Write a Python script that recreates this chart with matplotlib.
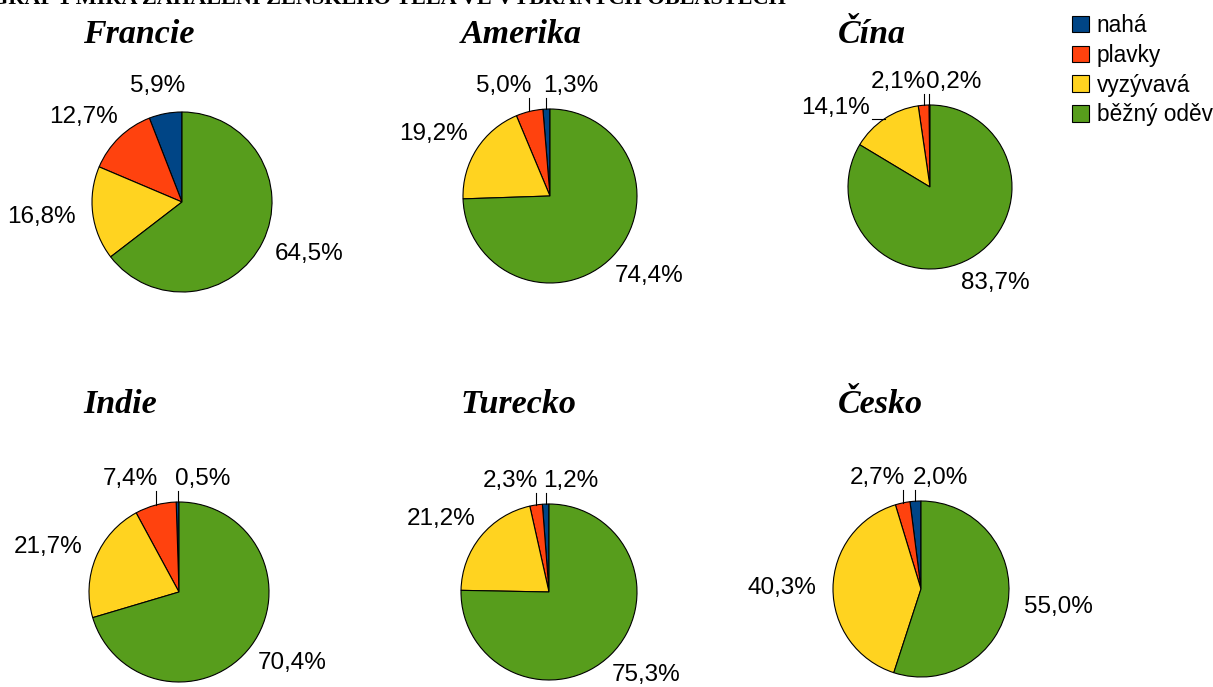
import numpy as np
import matplotlib
matplotlib.use("Agg")
import matplotlib.pyplot as plt

categories = ["nahá", "plavky", "vyzývavá", "běžný oděv"]
countries = ["Francie", "Amerika", "Čína", "Indie", "Turecko", "Česko"]

francie = [5.9, 12.7, 16.8, 64.5]
amerika = [1.3, 5.0, 19.2, 74.4]
cina = [0.2, 2.1, 14.1, 83.7]
indie = [0.5, 7.4, 21.7, 70.4]
turecko = [1.2, 2.3, 21.2, 75.3]
cesko = [2.0, 2.7, 40.3, 55.0]
values = [francie, amerika, cina, indie, turecko, cesko]

colors = ["#004586", "#ff420e", "#ffd320", "#579d1c"]

W, H = 1213, 687
# pie centre (px from top-left) and radius in px
layout = [(182, 202, 90), (550, 196, 87), (930, 187, 82),
          (179, 592, 90), (549, 592, 88), (921, 589, 88)]
title_x = [83, 461, 838, 83, 461, 838]
title_y = [43, 43, 43, 413, 413, 413]

fig = plt.figure(figsize=(W / 100, H / 100), dpi=100)
renderer = fig.canvas.get_renderer()

label_font = dict(family="Liberation Sans", size=17.5, color="black")

for i, (name, vals) in enumerate(zip(countries, values)):
    cx, cy, r = layout[i]
    ax = fig.add_axes([(cx - r) / W, 1 - (cy + r) / H, 2 * r / W, 2 * r / H])
    wedges, _ = ax.pie(vals, colors=colors, startangle=90, counterclock=True,
                       wedgeprops=dict(edgecolor="black", linewidth=0.8))
    ax.set_xlim(-1, 1)
    ax.set_ylim(-1, 1)
    ax.axis("off")

    total = sum(vals)
    cum = 0.0
    leader = vals[0] < 3
    for j, v in enumerate(vals):
        mid = np.deg2rad(90 + (cum + v / 2) / total * 360)
        cum += v
        txt = f"{v:.1f}%".replace(".", ",")
        px, py = np.cos(mid), np.sin(mid)
        if leader and j < 2:
            top = 1 + 11 / r
            ax.plot([px, px], [py, top], color="black", lw=0.8, clip_on=False)
            if j == 0:
                ax.text(px - 3 / r, top + 1 / r, txt, ha="left", va="bottom",
                        clip_on=False, **label_font)
            else:
                ax.text(px + 2 / r, top + 1 / r, txt, ha="right", va="bottom",
                        clip_on=False, **label_font)
        elif leader and j == 2 and py > 0.75:
            end = px - 13 / r
            ax.plot([px, end], [py, py], color="black", lw=0.8, clip_on=False)
            ax.text(end - 2 / r, py, txt, ha="right", va="bottom",
                    clip_on=False, **label_font)
        else:
            g = 17 / r
            t = ax.text(0, 0, txt, ha="center", va="center", clip_on=False,
                        **label_font)
            bb = t.get_window_extent(renderer)
            w, h = bb.width / r, bb.height / r
            t.set_position((px * (1 + g) + w / 2 * px, py * (1 + g) + h / 2 * py))

    fig.text(title_x[i] / W, 1 - title_y[i] / H, name, ha="left", va="baseline",
             family="Liberation Serif", style="italic", weight="bold", size=24.5)

fig.text(-9 / W, 1 - 4 / H,
         "GRAF 1 MÍRA ZAHALENÍ ŽENSKÉHO TĚLA VE VYBRANÝCH OBLASTECH",
         ha="left", va="baseline", family="Liberation Serif", weight="bold",
         size=16)

fig.legend(wedges, categories, loc="upper left",
           bbox_to_anchor=(1072 / W, 1 - 14 / H), frameon=False,
           prop=dict(family="Liberation Sans", size=16.3),
           handlelength=0.75, handleheight=0.75, handletextpad=0.35,
           labelspacing=0.3, borderpad=0, borderaxespad=0)

fig.savefig("out.png", dpi=100)
